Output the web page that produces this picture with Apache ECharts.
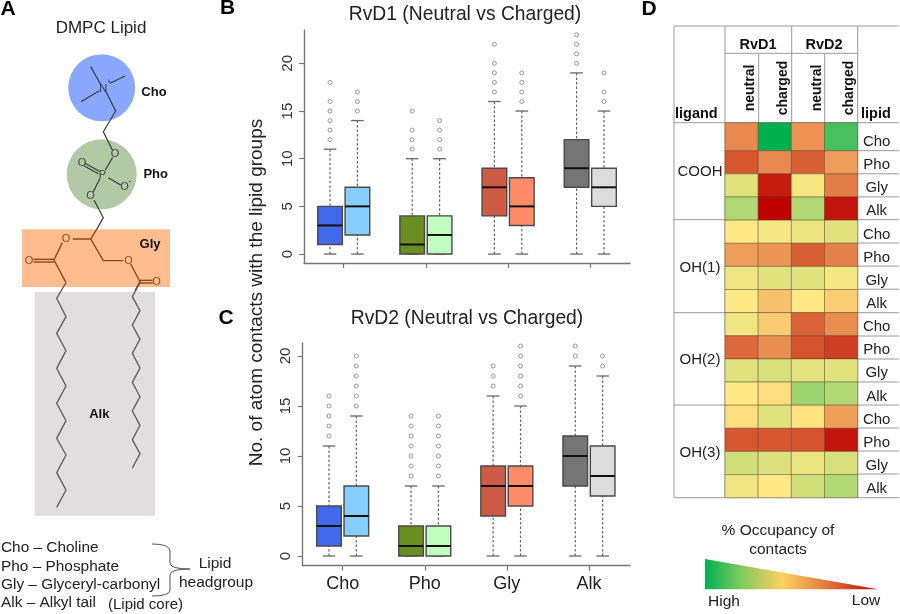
<!DOCTYPE html>
<html><head><meta charset="utf-8">
<style>html,body{margin:0;padding:0;background:#fff}#c{width:900px;height:614px}</style>
<script src="https://cdn.jsdelivr.net/npm/echarts@6/dist/echarts.min.js"></script>
</head><body><div id="c"></div>
<script>
// ---------- data ----------
const groups = ['Cho','Pho','Gly','Alk'];
const boxSlots = [1,2,4,5,7,8,10,11];
const groupTicks = [1.5,4.5,7.5,10.5];
const yTicks1 = [0,5,10,15,20];
// each box: low whisker, q1, median, q3, high whisker
const rvd1Boxes = [[0,1,3,5,11],[0,2,5,7,14],[0,0,1,4,10],[0,0,2,4,10],[0,4,7,9,16],[0,3,5,8,15],[0,7,9,12,19],[0,5,7,9,15]];
const rvd1Outliers = [[12,13,14,15,16,18],[15,16,17],[11,12,13,15],[11,12,13,14],[17,18,19,20,22],[16,17,18,19],[20,21,22,23],[16,17,19]];
const rvd2Boxes = [[0,1,3,5,11],[0,2,4,7,14],[0,0,1,3,7],[0,0,1,3,7],[0,4,7,9,16],[0,5,7,9,15],[0,7,10,12,19],[0,6,8,11,18]];
const rvd2Outliers = [[12,13,14,15,16],[15,16,17,18,19,20],[8,9,10,11,12,13,14],[8,9,10,11,12,13,14],[17,18,19],[16,17,18,19,20,21],[20,21],[19,20]];
const boxColors = ['#4169E9','#87CEFF','#6B8E23','#C1FFC1','#CD5B45','#FF8C69','#757575','#DCDCDC'];
const ligands = ['COOH','OH(1)','OH(2)','OH(3)'];
const lipidRows = ['Cho','Pho','Gly','Alk','Cho','Pho','Gly','Alk','Cho','Pho','Gly','Alk','Cho','Pho','Gly','Alk'];
// occupancy scale position: 0 = high (green), 100 = low (red); columns RvD1 n/c, RvD2 n/c
const occupancy = [
 [75,0,73,14],[87,75,85,71],[44,96,48,78],[35,100,35,97],
 [50,48,46,44],[71,72,85,77],[47,44,44,48],[50,63,50,59],
 [47,60,84,74],[83,74,88,91],[44,42,45,44],[50,54,31,35],
 [54,44,52,70],[87,87,88,97],[41,43,46,42],[47,50,41,35]];
const heatRamp = ['#00B050','#40BE5D','#80CD6A','#BFDB77','#FFE984','#F9C46E','#E8894F','#D5552F','#C00000'];

// ---------- helpers ----------
const F = 'Liberation Sans, Arial, sans-serif';
const boxData = b => b.map((v,i)=>[boxSlots[i],v[0],v[1],v[2],v[3],v[4],i]);
const outData = o => o.flatMap((list,i)=>list.map(v=>[boxSlots[i],v]));
function renderBox(params, api){
  const x=api.value(0), s=api.size([1,0])[0], hw=s*0.45, cw=s*0.23;
  const P=d=>api.coord([x,api.value(d)]);
  const lo=P(1),q1=P(2),me=P(3),q3=P(4),hi=P(5);
  const col=boxColors[api.value(6)];
  const dash={stroke:'#666',lineWidth:1.2,lineDash:[2.5,2]};
  const cap={stroke:'#666',lineWidth:1.3};
  const L=(x1,y1,x2,y2,st)=>({type:'line',shape:{x1,y1,x2,y2},style:st});
  return {type:'group',children:[
    L(lo[0],lo[1],lo[0],q1[1],dash),
    L(hi[0],hi[1],hi[0],q3[1],dash),
    L(lo[0]-cw,lo[1],lo[0]+cw,lo[1],cap),
    L(hi[0]-cw,hi[1],hi[0]+cw,hi[1],cap),
    {type:'rect',shape:{x:q3[0]-hw,y:q3[1],width:hw*2,height:q1[1]-q3[1]},style:{fill:col,stroke:'#4a4a4a',lineWidth:1.4}},
    L(me[0]-hw,me[1],me[0]+hw,me[1],{stroke:'#111',lineWidth:2})
  ]};
}
function renderCell(params, api){
  const c=api.value(0), r=api.value(1);
  const a=api.coord([c,r===0?-0.212:r]), b=api.coord([c+1,r+1]);
  return {type:'rect',shape:{x:a[0],y:a[1],width:b[0]-a[0],height:b[1]-a[1]},
    style:{fill:api.visual('color'),stroke:'rgba(70,50,30,0.55)',lineWidth:0.7}};
}
const axisLine={show:true,onZero:false,lineStyle:{color:'#777',width:1.4}};
const axisTick={show:true,length:5,lineStyle:{color:'#777',width:1.2}};
function yAx(i,min,max){return {gridIndex:i,type:'value',min,max,splitLine:{show:false},axisLine,
  axisTick:{...axisTick,customValues:yTicks1},
  axisLabel:{customValues:yTicks1,rotate:90,fontFamily:F,fontSize:15,color:'#333',margin:9}};}

// ---------- panel A / table graphics ----------
const T=(text,x,y,size,o={})=>({type:'text',x,y,rotation:o.rot||0,z:20,silent:true,
  style:{text,fill:o.fill||'#222',font:(o.bold?'bold ':'')+size+'px '+F,align:o.align||'center',verticalAlign:'middle'}});
const PL=(pts,stroke,w=1.2)=>({type:'polyline',z:12,silent:true,shape:{points:pts.map(p=>[p[0]/3,p[1]/3])},style:{stroke,lineWidth:w,fill:null}});
const HL=(x1,y1,x2,y2)=>({type:'line',z:5,silent:true,shape:{x1,y1,x2,y2},style:{stroke:'#9a9a9a',lineWidth:1}});
const QC=(x1,y1,cpx1,cpy1,x2,y2)=>({type:'bezierCurve',z:12,silent:true,shape:{x1,y1,cpx1,cpy1,x2,y2},style:{stroke:'#555',lineWidth:1,fill:null}});
const dark='#3a3a3a', brown='#8C4A1C', tailC='#5c5c5c';
const z2=(x,y)=>[x,y+840];
const leftTail=[[198,8],[170,55],[198,110],[170,160],[198,212],[170,265],[198,318],[170,370],[198,422],[170,475],[198,525],[170,578],[198,630],[170,682]].map(p=>z2(p[0],p[1]));
const rightTail=[[420,8],[397,50],[420,92],[397,135],[420,178],[397,220],[420,264],[397,307],[420,350],[397,393],[420,436],[397,479],[420,521],[397,564]].map(p=>z2(p[0],p[1]));
const gfx=[
 {type:'circle',z:10,silent:true,shape:{cx:101.7,cy:87.7,r:33.5},style:{fill:'#8AA8FF'}},
 {type:'circle',z:10,silent:true,shape:{cx:101.7,cy:174.3,r:35},style:{fill:'#B2C9A6'}},
 {type:'rect',z:10,silent:true,shape:{x:34.7,y:291.7,width:120.3,height:224},style:{fill:'#E0DEDF'}},
 {type:'rect',z:10,silent:true,shape:{x:22,y:229.3,width:148,height:57.7},style:{fill:'#FFBC8F'}},
 PL([[272,200],[303,255]],dark),PL([[375,228],[330,250]],dark),PL([[243,305],[298,272]],dark),
 PL([[318,275],[347,333],[310,395],[337,450]],dark),
 PL([[338,472],[316,510]],dark),PL([[255,490],[298,514]],dark),PL([[252,497],[295,521]],dark),
 PL([[325,533],[362,555]],dark),PL([[300,535],[280,575]],dark),
 PL([[282,600],[310,653],[290,688]],dark),
 PL([[290,688],[272,717],[218,717]],brown,1.4),PL([[272,717],[310,782],[370,782]],brown,1.4),
 PL([[187,728],[162,780],[198,848]],brown,1.4),PL([[100,778],[162,778]],brown,1.4),PL([[100,786],[162,786]],brown,1.4),
 PL([[392,792],[420,845],[405,872]],brown,1.4),PL([[420,841],[458,841]],brown,1.4),PL([[420,849],[458,849]],brown,1.4),
 PL(leftTail,tailC,1.3),PL(rightTail,tailC,1.3),
 T('N',103.3,88.5,11,{fill:'#333'}),T('+',109,82,7,{fill:'#333'}),
 T('O',115,153.5,11,{fill:'#444'}),T('P',102.3,174.5,11,{fill:'#444'}),T('O',82,162.5,11,{fill:'#444'}),
 T('O',124.5,187,11,{fill:'#444'}),T('-',130,182,9,{fill:'#444'}),T('O',90.5,196,11,{fill:'#444'}),
 T('O',66,239,11,{fill:brown}),T('O',128.5,260.5,11,{fill:brown}),T('O',29,260.5,11,{fill:brown}),T('O',156.5,282,11,{fill:brown}),
 T('DMPC Lipid',101,28.5,17),
 T('Cho',154,92,13,{bold:true,fill:'#111'}),T('Pho',155.7,174,13,{bold:true,fill:'#111'}),
 T('Gly',150,244,13,{bold:true,fill:'#111'}),T('Alk',99.3,414.5,13,{bold:true,fill:'#111'}),
 T('Cho – Choline',1,548,15.4,{align:'left'}),T('Pho – Phosphate',1,566.5,15.4,{align:'left'}),
 T('Gly – Glyceryl-carbonyl',1,585,15.4,{align:'left'}),T('Alk – Alkyl tail',1,603,15.4,{align:'left'}),
 T('(Lipid core)',145.5,605,15),T('Lipid',215,564,15.5),T('headgroup',216,583,15.5),
 QC(152,544,170,544,170,551),PL([[510,1653],[510,1689]],'#555',1),QC(170,563,170,569,190,569),QC(190,569,170,569,170,575),PL([[510,1725],[510,1770]],'#555',1),QC(170,590,170,596,152,596),
 T('A',8,9,21,{bold:true,fill:'#000'}),T('B',227.5,8.5,21,{bold:true,fill:'#000'}),T('C',226,318,21,{bold:true,fill:'#000'}),T('D',649,9,21,{bold:true,fill:'#000'}),
 T('RvD1 (Neutral vs Charged)',465,15,19.3),T('RvD2 (Neutral vs Charged)',467,319,19.3),
 T('No. of atom contacts with the lipid groups',257,292.5,19,{rot:Math.PI/2}),
 // table rules
 HL(674,26,899,26),HL(725,53.3,857.7,53.3),HL(674,122.7,899,122.7),
 HL(674,219.7,899,219.7),HL(674,312.7,899,312.7),HL(674,405,899,405),HL(674,497.7,899,497.7),
 HL(674,26,674,497.7),HL(725,26,725,497.7),HL(857.7,26,857.7,497.7),
 HL(791.7,26,791.7,122.7),HL(758.7,53.3,758.7,122.7),HL(824.7,53.3,824.7,122.7),
 ...[150.7,173.8,196.9,243,266.1,289.2,336,359,382,428,451,474].map(y=>HL(857.7,y,899,y)),
 T('ligand',675,114,14.5,{bold:true,align:'left',fill:'#111'}),T('lipid',861,114,14.5,{bold:true,align:'left',fill:'#111'}),
 T('RvD1',758,45,14.5,{bold:true,fill:'#111'}),T('RvD2',824,45,14.5,{bold:true,fill:'#111'}),
 T('neutral',750,88,14,{bold:true,rot:Math.PI/2,fill:'#111'}),T('charged',783,88,14,{bold:true,rot:Math.PI/2,fill:'#111'}),
 T('neutral',816.7,88,14,{bold:true,rot:Math.PI/2,fill:'#111'}),T('charged',849,88,14,{bold:true,rot:Math.PI/2,fill:'#111'}),
 T(ligands[0],700,172,15),T(ligands[1],700,268,15),T(ligands[2],700,360,15),T(ligands[3],700,452.7,15),
 T('% Occupancy of',778,531,15.5),T('contacts',778,550,15.5),
 {type:'polygon',z:10,silent:true,shape:{points:[[705,559],[878,589.3],[705,589.3]]},
  style:{stroke:null,fill:{type:'linear',x:0,y:0,x2:1,y2:0,colorStops:[{offset:0,color:'#00B050'},{offset:0.2,color:'#7CC860'},{offset:0.45,color:'#FFD060'},{offset:0.7,color:'#E07A40'},{offset:1,color:'#C00000'}]}}},
 T('High',724,601.5,15.5),T('Low',866,601,15.5)
];

// ---------- chart ----------
const chart=echarts.init(document.getElementById('c'),null,{renderer:'canvas'});
chart.setOption({
 animation:false,backgroundColor:'#fff',
 grid:[
  {left:304,top:30,width:326,height:233},
  {left:302.7,top:343,width:327.3,height:222.7},
  {left:725,top:122.7,width:132.7,height:375}
 ],
 xAxis:[
  {gridIndex:0,type:'value',min:0.05,max:11.95,splitLine:{show:false},axisLine,axisTick:{...axisTick,customValues:groupTicks},axisLabel:{show:false}},
  {gridIndex:1,type:'value',min:0.04,max:12,splitLine:{show:false},axisLine,axisTick:{...axisTick,customValues:groupTicks},
   axisLabel:{customValues:groupTicks,fontFamily:F,fontSize:18,color:'#222',margin:9,formatter:v=>groups[groupTicks.indexOf(v)]}},
  {gridIndex:2,type:'value',min:0,max:4,show:false}
 ],
 yAxis:[
  yAx(0,-0.94,23.5),
  yAx(1,-0.97,21.3),
  {gridIndex:2,type:'value',inverse:true,min:-0.212,max:16,position:'right',splitLine:{show:false},axisLine:{show:false},axisTick:{show:false},
   axisLabel:{customValues:lipidRows.map((_,i)=>i+0.62),fontFamily:F,fontSize:15,color:'#222',align:'center',margin:19,
    formatter:v=>lipidRows[Math.floor(v)]}}
 ],
 visualMap:{show:false,seriesIndex:4,dimension:2,min:0,max:100,inRange:{color:heatRamp}},
 series:[
  {type:'custom',name:'RvD1 boxes',xAxisIndex:0,yAxisIndex:0,renderItem:renderBox,clip:false,silent:true,data:boxData(rvd1Boxes),encode:{x:0,y:[1,2,3,4,5]},z:3},
  {type:'scatter',name:'RvD1 outliers',xAxisIndex:0,yAxisIndex:0,silent:true,symbolSize:4,data:outData(rvd1Outliers),itemStyle:{color:'#fff',borderColor:'#808080',borderWidth:1},z:3},
  {type:'custom',name:'RvD2 boxes',xAxisIndex:1,yAxisIndex:1,renderItem:renderBox,clip:false,silent:true,data:boxData(rvd2Boxes),encode:{x:0,y:[1,2,3,4,5]},z:3},
  {type:'scatter',name:'RvD2 outliers',xAxisIndex:1,yAxisIndex:1,silent:true,symbolSize:4,data:outData(rvd2Outliers),itemStyle:{color:'#fff',borderColor:'#808080',borderWidth:1},z:3},
  {type:'custom',name:'occupancy',xAxisIndex:2,yAxisIndex:2,renderItem:renderCell,silent:true,
   data:occupancy.flatMap((row,r)=>row.map((v,c)=>[c,r,v])),encode:{x:0,y:1},z:6}
 ],
 graphic:{elements:gfx}
});
</script></body></html>
